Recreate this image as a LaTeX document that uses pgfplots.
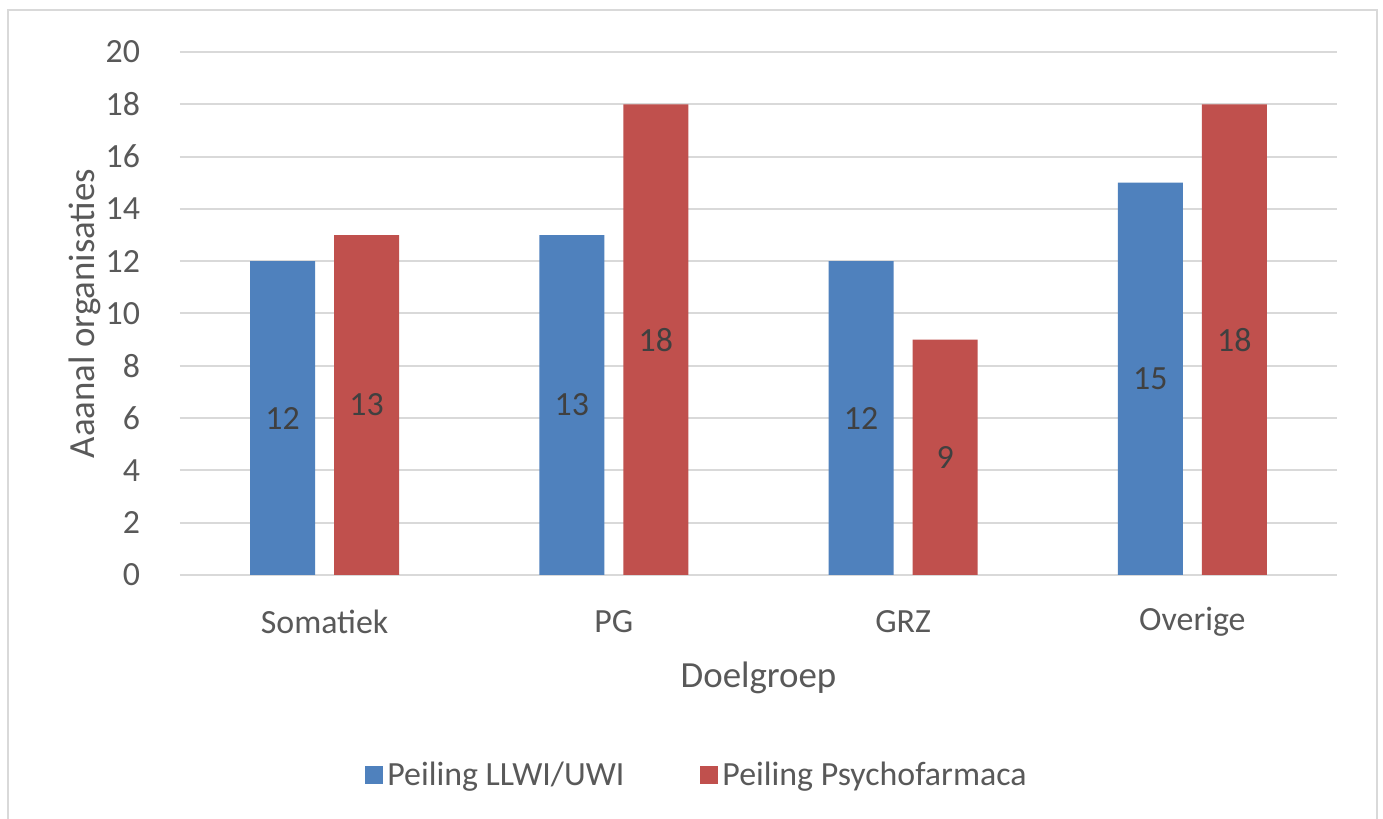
\documentclass[border=0pt]{standalone}
\usepackage{fontspec}
\setmainfont{Carlito}
\usepackage{pgfplots}
\pgfplotsset{compat=1.18}
\definecolor{cblue}{HTML}{4F81BD}
\definecolor{cred}{HTML}{C0504D}
\definecolor{cgrid}{HTML}{D9D9D9}
\definecolor{ctext}{HTML}{595959}
\definecolor{clabel}{HTML}{404040}
\begin{document}
\begin{tikzpicture}
\useasboundingbox (0,0) rectangle (691.5bp,409.5bp);
\fill[white] (0,0) rectangle (691.5bp,409.5bp);
\draw[cgrid, line width=1bp] (4bp,0) -- (4bp,404.5bp) -- (688.5bp,404.5bp) -- (688.5bp,0);
\begin{axis}[
  at={(90bp,122bp)}, anchor=south west,
  scale only axis, width=578.5bp, height=261.5bp,
  ybar, bar width=32.5bp,
  xmin=-0.5, xmax=3.5, ymin=0, ymax=20,
  xtick={0,1,2,3}, xticklabels={Somatiek,PG,GRZ,Overige},
  ytick={0,2,...,20},
  ymajorgrids, grid style={cgrid, line width=1bp},
  axis line style={draw=none},
  tick style={draw=none},
  major tick length=0pt,
  /pgf/number format/assume math mode=true,
  ticklabel style={font=\fontsize{17}{20}\selectfont, text=ctext},
  yticklabel style={anchor=east, xshift=-16.5bp},
  xticklabel style={anchor=center, yshift=-23.5bp},
  xlabel={Doelgroep}, ylabel={Aaanal organisaties},
  every axis x label/.style={at={(axis description cs:0.5,-0.197)}, anchor=center, font=\fontsize{18.5}{22}\selectfont, text=ctext},
  every axis y label/.style={at={(axis description cs:-0.082,0.5)}, rotate=90, anchor=center, font=\fontsize{18.5}{22}\selectfont, text=ctext},
  nodes near coords,
  visualization depends on={y \as \rawy},
  every node near coord/.append style={anchor=center, font=\fontsize{17}{20}\selectfont, text=clabel, shift={(axis direction cs:0,-\rawy/2)}},
  legend style={at={(axis description cs:0.4477,-0.3824)}, anchor=center, draw=none, fill=none, legend columns=2, font=\fontsize{17}{20}\selectfont, text=ctext, /tikz/every even column/.append style={column sep=36bp}},
  legend cell align=left,
  legend image code/.code={\fill[#1] (0bp,-4.5bp) rectangle (9bp,4.5bp);},
]
\addplot[fill=cblue, draw=none, bar shift=-21bp] coordinates {(0,12) (1,13) (2,12) (3,15)};
\addlegendentry{Peiling LLWI/UWI}
\addplot[fill=cred, draw=none, bar shift=21bp] coordinates {(0,13) (1,18) (2,9) (3,18)};
\addlegendentry{Peiling Psychofarmaca}
\end{axis}
\end{tikzpicture}
\end{document}
